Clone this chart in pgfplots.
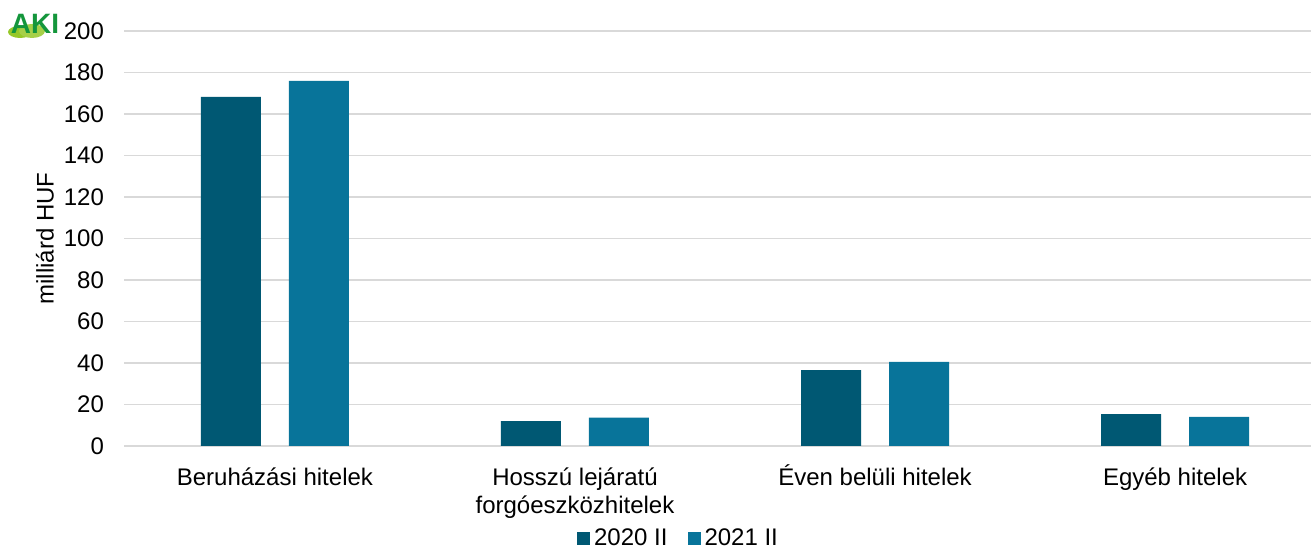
\documentclass[border=0pt]{standalone}
\usepackage{pgfplots}
\pgfplotsset{compat=1.18}
\usepackage{fontspec}
\setmainfont{Liberation Sans}
\definecolor{dark}{RGB}{0,88,115}
\definecolor{light}{RGB}{8,116,154}
\definecolor{gridc}{RGB}{217,217,217}
\definecolor{akigreen}{RGB}{20,150,60}
\definecolor{akilime}{RGB}{150,200,40}

\begin{document}
\begin{tikzpicture}
\path[use as bounding box] (0,0) rectangle (655.5pt,274.5pt);
% logo
\fill[akilime] (10pt,258.5pt) ellipse (6pt and 3pt);
\fill[akilime!85!white] (16pt,259pt) ellipse (6.5pt and 3.5pt);
\node[font=\bfseries\fontsize{14}{14}\selectfont, text=akigreen, inner sep=0pt] at (17.5pt,262.5pt) {AKI};
\begin{axis}[
  at={(62pt,51.5pt)}, anchor=south west,
  scale only axis,
  width=593.5pt, height=207.5pt,
  ybar=14pt, bar width=30pt,
  xmin=-0.503, xmax=3.453,
  ymin=0, ymax=200,
  ytick={0,20,...,200},
  xtick={0,1,2,3},
  xticklabels={\rule{0pt}{11pt}Beruházási hitelek, {\rule{0pt}{11pt}Hosszú lejáratú\\forgóeszközhitelek}, \rule{0pt}{11pt}Éven belüli hitelek, \rule{0pt}{11pt}Egyéb hitelek},
  xticklabel style={align=center, anchor=north, font=\fontsize{12}{14}\selectfont, yshift=-1pt},
  yticklabel style={font=\fontsize{12}{14}\selectfont, xshift=-6.5pt},
  /pgf/number format/assume math mode=true,
  axis line style={draw=none},
  major tick style={draw=none},
  ymajorgrids, grid style={gridc, line width=0.8pt},
  ylabel={milliárd HUF},
  ylabel style={font=\fontsize{12}{14}\selectfont, at={(axis description cs:-0.0666,0.5)}, anchor=center},
  legend style={at={(axis description cs:0.468,-0.222)}, anchor=center, draw=none, legend columns=-1,
    font=\fontsize{12}{14}\selectfont, /tikz/every even column/.append style={column sep=8pt}},
  legend image code/.code={\fill[#1] (0pt,-3.25pt) rectangle (6.5pt,3.25pt);},
  clip=false,
]
\addplot[fill=dark, draw=none] coordinates {(0,168.2) (1,12.0) (2,36.6) (3,15.3)};
\addplot[fill=light, draw=none] coordinates {(0,175.9) (1,13.7) (2,40.5) (3,14.0)};
\legend{2020 II, 2021 II}
\end{axis}
\end{tikzpicture}
\end{document}
